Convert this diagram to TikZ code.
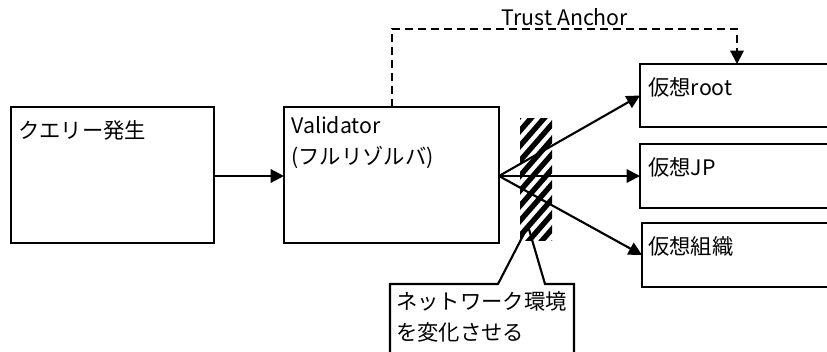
\documentclass[tikz,border=0pt]{standalone}
\usepackage{fontspec}
\setmainfont{Noto Sans CJK JP}
\usetikzlibrary{positioning,arrows.meta,calc}

\tikzset{
  box/.style={draw, line width=1.6pt, rectangle, anchor=north west, inner sep=0pt, outer sep=0pt},
  lbl/.style={anchor=west, inner sep=0pt, align=left, font=\fontsize{16pt}{23.5pt}\selectfont},
  arr/.style={line width=1.6pt, -{Triangle[length=10pt,width=10pt]}},
  trustarr/.style={line width=1.6pt, dash pattern=on 6pt off 3.75pt, -{Triangle[length=10pt,width=10pt]}}
}

\begin{document}
\begin{tikzpicture}[x=0.75pt,y=-0.75pt]
\clip (0,0) rectangle (827,351);
\fill[white] (0,0) rectangle (827,351);

% boxes
\node[box, minimum width=152.25pt, minimum height=102pt] (query) at (11,107) {};
\node[box, minimum width=161.25pt, minimum height=102pt] (validator) at (284,107) {};
\node[box, minimum width=190pt, minimum height=47.25pt] (vroot) at (640,64) {};
\node[box, minimum width=190pt, minimum height=48pt] (vjp) at (640,144) {};
\node[box, minimum width=190pt, minimum height=48pt] (vorg) at (642,223) {};

\node[lbl] (querytxt) at ($(query.north west)+(7,23)$) {クエリー発生};
\node[lbl, anchor=north west] (validatortxt) at ($(validator.north west)+(7,9)$) {Validator\\(フルリゾルバ)};
\node[lbl] (vroottxt) at ($(vroot.north west)+(8,23)$) {仮想root};
\node[lbl] (vjptxt) at ($(vjp.north west)+(8,23)$) {仮想JP};
\node[lbl] (vorgtxt) at ($(vorg.north west)+(6,23)$) {仮想組織};

% network barrier
\begin{scope}
\clip (520,118) rectangle (552,240);
\foreach \y in {110,125,...,290}
  \draw[line width=4pt] (512,\y) -- (560,\y-55);
\end{scope}

\draw[arr] (query.east |- 0,176) -- (validator.west |- 0,176);
\coordinate (fan) at (validator.east |- 0,176);
\draw[arr] (fan) -- (vroot.west);
\draw[arr] (fan) -- (vjp.west |- fan);
\draw[arr] (fan) -- (vorg.west);

% trust anchor
\coordinate (tabend) at (500,29);
\draw[trustarr] ($(validator.north west)+(108,0)$) |- (tabend) -| ($(vroot.north west)+(97,0)$);
\node[lbl, anchor=center] (talabel) at (565,17) {Trust Anchor};

% callout
\draw[line width=1.6pt] (390,360) -- (390,284) -- (498,284) -- (528,226) -- (545,284) -- (574,284) -- (574,360);
\node[lbl, anchor=north west] (callouttxt) at (396,291) {ネットワーク環境\\を変化させる};
\end{tikzpicture}
\end{document}
